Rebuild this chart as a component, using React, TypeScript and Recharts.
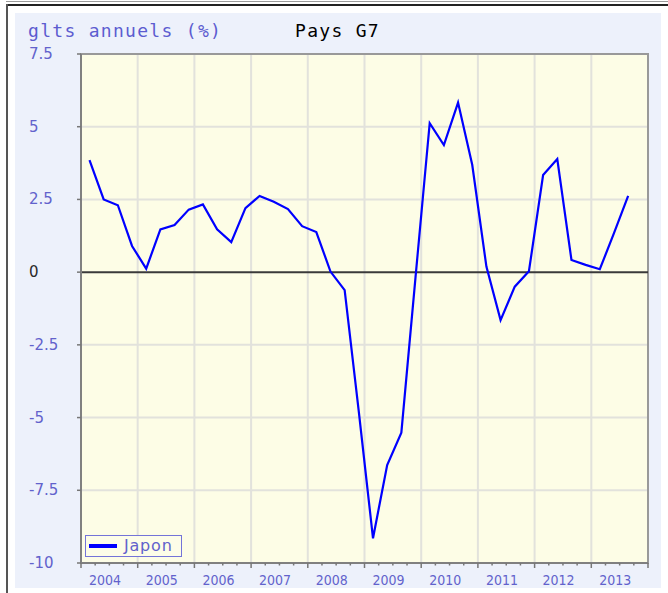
import React from 'react';
import {
  LineChart,
  Line,
  XAxis,
  YAxis,
  CartesianGrid,
  ReferenceLine,
  ReferenceArea,
  Legend,
} from 'recharts';

// ---- data ----
const years = [2004, 2005, 2006, 2007, 2008, 2009, 2010, 2011, 2012, 2013];
const quarters = ['T1', 'T2', 'T3', 'T4'];
const japonValues = [
  3.85, 2.5, 2.3, 0.9,
  0.12, 1.47, 1.62, 2.15,
  2.33, 1.47, 1.03, 2.2,
  2.62, 2.42, 2.17, 1.58,
  1.38, 0.02, -0.62, -4.8,
  -9.15, -6.63, -5.52, -0.17,
  5.12, 4.37, 5.83, 3.69,
  0.19, -1.65, -0.5, 0.03,
  3.34, 3.89, 0.42, 0.25,
  0.1, 1.34, 2.62,
];
const yTicks = [-10, -7.5, -5, -2.5, 0, 2.5, 5, 7.5];
const yGridValues = [-7.5, -5, -2.5, 2.5, 5];
const xYearLines = [2005, 2006, 2007, 2008, 2009, 2010, 2011, 2012, 2013];
const seriesName = 'Japon';
const titleText = 'glts annuels (%)';
const subtitleText = 'Pays G7';

const xStart = 2004;
const xEnd = 2014;
const quarterOffset = 0.15;

const data = japonValues.map((v, i) => ({
  t: years[Math.floor(i / 4)] + (i % 4) * 0.25 + quarterOffset,
  periode: `${years[Math.floor(i / 4)]} ${quarters[i % 4]}`,
  japon: v,
}));

const xTicks: number[] = [];
for (let y = xStart; y <= xEnd; y++) {
  for (let q = 0; q < 4; q++) {
    const v = y + q * 0.25;
    if (v <= xEnd) xTicks.push(v);
  }
}

const LABEL_COLOR = '#6262cc';

const XTick = (props: any) => {
  const { x, y, payload } = props;
  const v = payload.value as number;
  const isMajor = Math.abs(v - Math.round(v)) < 1e-6;
  return (
    <g>
      <line x1={x} x2={x} y1={y} y2={y + (isMajor ? 5 : 2.5)} stroke="#777" strokeWidth={1.5} />
      {isMajor && v < xEnd && (
        <text
          x={x + 24}
          y={y + 16.5}
          textAnchor="middle"
          dominantBaseline="central"
          fill={LABEL_COLOR}
          fontFamily="'DejaVu Sans Condensed', 'DejaVu Sans'"
          fontStretch="condensed"
          fontSize={14}
          textLength={32}
          lengthAdjust="spacingAndGlyphs"
        >
          {Math.round(v)}
        </text>
      )}
    </g>
  );
};

const YTick = (props: any) => {
  const { y, payload } = props;
  const v = payload.value as number;
  return (
    <text
      x={29}
      y={y}
      textAnchor="start"
      dominantBaseline="central"
      fill={v === 0 ? '#2a2a2a' : LABEL_COLOR}
      fontFamily="'DejaVu Sans'"
      fontSize={15}
    >
      {String(v)}
    </text>
  );
};

const renderLegend = (props: any) => {
  const item = (props.payload && props.payload[0]) || { value: seriesName, color: '#0000ff' };
  return (
    <div
      style={{
        width: 97,
        height: 22,
        boxSizing: 'border-box',
        border: '1px solid #7474d8',
        background: '#fdfde8',
        display: 'flex',
        alignItems: 'center',
      }}
    >
      <div style={{ width: 28, height: 4, background: item.color, marginLeft: 3 }} />
      <span
        style={{
          marginLeft: 7,
          color: LABEL_COLOR,
          fontFamily: "'DejaVu Sans'",
          fontSize: 16,
          letterSpacing: 0.8,
          lineHeight: '16px',
        }}
      >
        {item.value}
      </span>
    </div>
  );
};

export default function App() {
  return (
    <div style={{ position: 'absolute', left: 0, top: 0, width: 668, height: 593, background: '#ffffff', overflow: 'hidden' }}>
      {/* frame */}
      <div style={{ position: 'absolute', left: 6, top: 1, width: 662, height: 1, background: '#9a9a9a' }} />
      <div style={{ position: 'absolute', left: 6, top: 4, width: 662, height: 2, background: '#222' }} />
      <div style={{ position: 'absolute', left: 6, top: 4, width: 2, height: 589, background: '#555' }} />
      <div style={{ position: 'absolute', left: 15, top: 13, width: 646, height: 575, background: '#edf1fb' }} />

      <div
        style={{
          position: 'absolute',
          left: 28,
          top: 22,
          fontFamily: "'DejaVu Sans Mono'",
          fontSize: 18,
          lineHeight: '18px',
          letterSpacing: 1.3,
          color: '#5c5cd0',
          whiteSpace: 'pre',
        }}
      >
        {titleText}
      </div>
      <div
        style={{
          position: 'absolute',
          left: 295,
          top: 22,
          fontFamily: "'DejaVu Sans Mono'",
          fontSize: 18,
          lineHeight: '18px',
          letterSpacing: 1.3,
          color: '#000',
          whiteSpace: 'pre',
        }}
      >
        {subtitleText}
      </div>

      <div style={{ position: 'absolute', left: 0, top: 0 }}>
        <LineChart width={668} height={593} data={data} margin={{ top: 54, right: 20, bottom: 0, left: 0 }}>
          <CartesianGrid
            fill="#fdfde6"
            stroke="#e2e2dc"
            strokeWidth={2}
            horizontalValues={yGridValues}
            verticalValues={xYearLines}
          />
          <XAxis
            dataKey="t"
            type="number"
            domain={[xStart, xEnd]}
            ticks={xTicks}
            interval={0}
            tick={<XTick />}
            tickLine={false}
            tickSize={0}
            tickMargin={0}
            height={30}
            axisLine={{ stroke: '#808080', strokeWidth: 2 }}
            allowDataOverflow
          />
          <YAxis
            type="number"
            domain={[-10, 7.5]}
            ticks={yTicks}
            interval={0}
            width={81}
            tick={<YTick />}
            tickSize={4}
            tickLine={{ stroke: '#777', strokeWidth: 1.5 }}
            axisLine={{ stroke: '#808080', strokeWidth: 2 }}
            allowDataOverflow
          />
          <ReferenceArea
            x1={xStart}
            x2={xEnd}
            y1={-10}
            y2={7.5}
            fill="none"
            stroke="#999"
            strokeWidth={2}
            fillOpacity={0}
          />
          <ReferenceLine y={0} stroke="#3a3a3a" strokeWidth={2} />
          <Legend
            layout="horizontal"
            verticalAlign="middle"
            align="center"
            content={renderLegend}
            wrapperStyle={{ left: 85, top: 535, width: 97, height: 22 }}
          />
          <Line
            type="linear"
            dataKey="japon"
            name={seriesName}
            stroke="#0000ff"
            strokeWidth={2.2}
            dot={false}
            activeDot={false}
            isAnimationActive={false}
          />
        </LineChart>
      </div>
    </div>
  );
}
